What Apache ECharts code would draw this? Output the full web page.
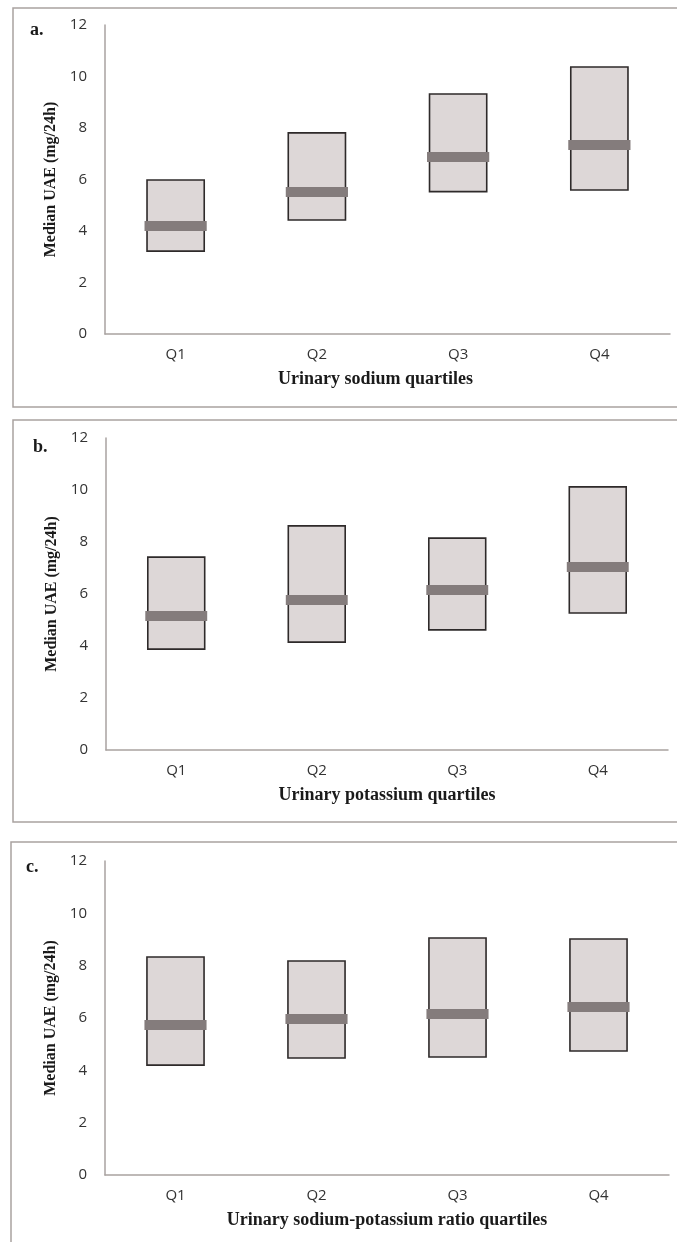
<!DOCTYPE html>
<html lang="en">
<head>
    <meta charset="UTF-8">
    <title>UAE quartiles</title>
    <style>
        body { margin: 0; background: #fff; }
    </style>
</head>
<body>
<div id="container" style="width:677px;height:1242px"></div>

<script type="text/javascript" src="https://cdn.jsdelivr.net/npm/echarts@6/dist/echarts.min.js"></script>

<script type="text/javascript">
    var categories = ['Q1', 'Q2', 'Q3', 'Q4'];
    var yTicks = [0, 2, 4, 6, 8, 10, 12];

    // a. sodium
    var sodiumLow = [3.22, 4.43, 5.53, 5.59];
    var sodiumHigh = [5.98, 7.81, 9.32, 10.37];
    var sodiumMedian = [4.19, 5.51, 6.87, 7.34];
    // b. potassium
    var potassiumLow = [3.88, 4.15, 4.62, 5.27];
    var potassiumHigh = [7.42, 8.62, 8.15, 10.12];
    var potassiumMedian = [5.15, 5.77, 6.15, 7.04];
    // c. sodium-potassium ratio
    var ratioLow = [4.20, 4.47, 4.51, 4.74];
    var ratioHigh = [8.33, 8.18, 9.06, 9.02];
    var ratioMedian = [5.73, 5.96, 6.15, 6.42];

    var panelLetters = ['a.', 'b.', 'c.'];
    var xTitles = ['Urinary sodium quartiles', 'Urinary potassium quartiles', 'Urinary sodium-potassium ratio quartiles'];
    var yTitle = 'Median UAE (mg/24h)';

    var axisColor = '#a9a2a0';
    var labelColor = '#333333';
    var boxFill = '#ddd7d7';
    var boxBorder = '#2e2a2a';
    var medianColor = '#847c7c';
    var serif = '"Liberation Serif", "DejaVu Serif", serif';

    var panels = [
        {low: sodiumLow, high: sodiumHigh, median: sodiumMedian, grid: {left: 105, top: 25, right: 7, height: 309}, shift: 24},
        {low: potassiumLow, high: potassiumHigh, median: potassiumMedian, grid: {left: 106, top: 438, right: 9, height: 312}, shift: 0},
        {low: ratioLow, high: ratioHigh, median: ratioMedian, grid: {left: 105, top: 861, right: 8, height: 314}, shift: 0}
    ];

    function boxItem(params, api) {
        var x = api.value(0);
        var lo = api.coord([x, api.value(1)]);
        var hi = api.coord([x, api.value(2)]);
        var md = api.coord([x, api.value(3)]);
        var band = api.size([1, 0])[0];
        var w = band * 0.405;
        var mw = w + 5;
        return {
            type: 'group',
            children: [
                {
                    type: 'rect',
                    shape: {x: lo[0] - w / 2, y: hi[1], width: w, height: lo[1] - hi[1]},
                    style: {fill: boxFill, stroke: boxBorder, lineWidth: 1.6}
                },
                {
                    type: 'rect',
                    shape: {x: md[0] - mw / 2, y: md[1] - 5, width: mw, height: 10},
                    style: {fill: medianColor}
                }
            ]
        };
    }

    var grids = [], xAxes = [], yAxes = [], series = [];
    panels.forEach(function (p, i) {
        grids.push(p.grid);
        xAxes.push({
            type: 'category',
            gridIndex: i,
            data: categories,
            name: xTitles[i],
            nameLocation: 'middle',
            nameGap: 36,
            nameTextStyle: {
                fontFamily: serif, fontWeight: 'bold', fontSize: 18, color: '#1a1a1a',
                padding: [0, p.shift, 0, 0]
            },
            axisTick: {show: false},
            axisLine: {lineStyle: {color: axisColor, width: 1.5}},
            axisLabel: {fontFamily: '"Open Sans"', fontSize: 15, color: labelColor, margin: 13}
        });
        yAxes.push({
            type: 'value',
            gridIndex: i,
            min: yTicks[0],
            max: yTicks[yTicks.length - 1],
            interval: 2,
            name: yTitle,
            nameLocation: 'middle',
            nameGap: 44,
            nameTextStyle: {fontFamily: serif, fontWeight: 'bold', fontSize: 16, color: '#1a1a1a'},
            axisLine: {show: true, lineStyle: {color: axisColor, width: 1.5}},
            axisTick: {show: false},
            splitLine: {show: false},
            axisLabel: {fontFamily: '"Open Sans"', fontSize: 15, color: labelColor, margin: 18}
        });
        series.push({
            type: 'custom',
            xAxisIndex: i,
            yAxisIndex: i,
            renderItem: boxItem,
            encode: {x: 0, y: [1, 2, 3]},
            data: categories.map(function (c, k) {
                return [k, p.low[k], p.high[k], p.median[k]];
            })
        });
    });

    // panel frames and letters
    var frames = [
        {x: 13, y: 8, width: 700, height: 399},
        {x: 13, y: 420, width: 700, height: 402},
        {x: 11, y: 842, width: 700, height: 430}
    ];
    var letterPos = [[30, 30], [33, 447], [26, 867]];
    var graphics = [];
    frames.forEach(function (f, i) {
        graphics.push({
            type: 'rect', z: -1, silent: true,
            shape: f,
            style: {fill: 'none', stroke: axisColor, lineWidth: 1.5}
        });
        graphics.push({
            type: 'text',
            x: letterPos[i][0], y: letterPos[i][1],
            style: {
                text: panelLetters[i], fontFamily: serif, fontWeight: 'bold', fontSize: 18,
                fill: '#1a1a1a', verticalAlign: 'middle'
            }
        });
    });

    var myChart = echarts.init(document.getElementById('container'));
    myChart.setOption({
        animation: false,
        grid: grids,
        xAxis: xAxes,
        yAxis: yAxes,
        series: series,
        graphic: graphics
    });
</script>
</body>
</html>
